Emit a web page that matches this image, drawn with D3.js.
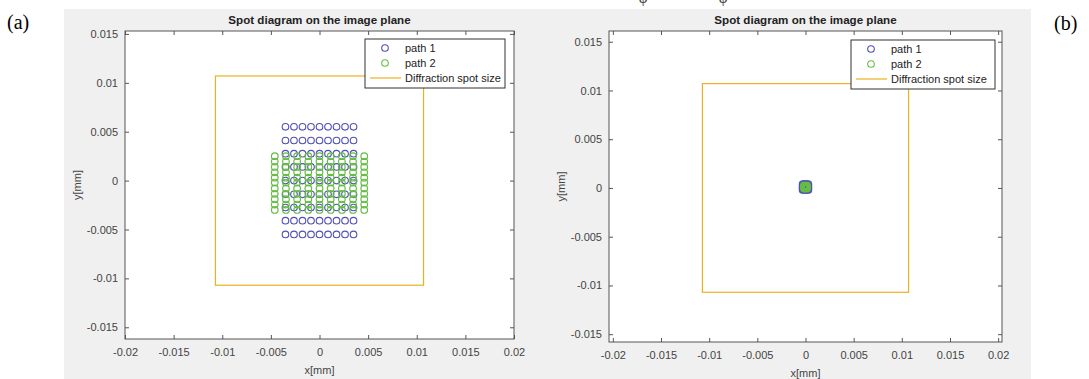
<!DOCTYPE html>
<html>
<head>
<meta charset="utf-8">
<script src="https://cdn.jsdelivr.net/npm/d3@7"></script>
<style>
  body { margin: 0; background: #fff; }
  svg { display: block; font-family: "Liberation Sans", Arial, sans-serif; }
</style>
</head>
<body>
<svg width="1089" height="379"></svg>
<script>
// ---- data (mm) ----
// panel (a): spots spread out
const aBlueX = [-0.0035, -0.002625, -0.00175, -0.000875, 0, 0.000875, 0.00175, 0.002625, 0.0035];
const aBlueY = [0.0055, 0.0041, 0.00275, 0.0014, 0, -0.0014, -0.00275, -0.0041, -0.0055];
const aGreenX = [-0.0046, -0.00345, -0.0023, -0.00115, 0, 0.00115, 0.0023, 0.00345, 0.0046];
const aGreenY = [0.0025, 0.00195, 0.0014, 0.00085, 0.0003, -0.0002, -0.0008, -0.00135, -0.0019, -0.00245, -0.003];
// panel (b): spots collapsed near the origin
const bBlueX = [-0.0003, -0.00015, 0, 0.00015, 0.0003];
const bBlueY = [0.0004, 0.00025, 0.0001, -0.00005, -0.0002];
const bGreenX = [-0.00015, -0.00005, 0.00005, 0.00015];
const bGreenY = [0.00025, 0.00015, 0.00005, -0.00005];
// diffraction spot half size
const spotHalf = 0.0107;
const xTicks = [-0.02, -0.015, -0.01, -0.005, 0, 0.005, 0.01, 0.015, 0.02];
const yTicks = [-0.015, -0.01, -0.005, 0, 0.005, 0.01, 0.015];
const legendLabels = ["path 1", "path 2", "Diffraction spot size"];

const blue = "#5050b4", green = "#66bd45", orange = "#edb120";

const svg = d3.select("svg");

// grey figure background
svg.append("rect").attr("x", 64).attr("y", 9).attr("width", 967).attr("height", 370).attr("fill", "#f0f0f0");

// symbols from the text above the figure, only partly visible
[643, 723].forEach(px => {
  svg.append("text").attr("x", px).attr("y", 3).attr("text-anchor", "middle")
    .attr("fill", "#333")
    .style("font-family", "Liberation Serif, serif").style("font-size", "15px").text("φ");
});

svg.append("text").attr("x", 7).attr("y", 29)
  .style("font-family", "Liberation Serif, serif").style("font-size", "20px").text("(a)");
svg.append("text").attr("x", 1054).attr("y", 30)
  .style("font-family", "Liberation Serif, serif").style("font-size", "20px").text("(b)");

const fmt = d => String(+d.toFixed(3));

function grid(xs, ys) {
  const pts = [];
  ys.forEach(y => xs.forEach(x => pts.push([x, y])));
  return pts;
}

function drawPlot(opt) {
  const x = d3.scaleLinear().domain(opt.xDom).range([opt.left, opt.right]);
  const y = d3.scaleLinear().domain(opt.yDom).range([opt.bottom, opt.top]);
  const g = svg.append("g");

  g.append("rect").attr("x", opt.left).attr("y", opt.top)
    .attr("width", opt.right - opt.left).attr("height", opt.bottom - opt.top)
    .attr("fill", "#fff");

  // ticks on all four sides, pointing inward
  const axes = [
    [d3.axisBottom(x).tickFormat(fmt).tickPadding(9), `translate(0,${opt.bottom})`, xTicks],
    [d3.axisTop(x).tickFormat(""), `translate(0,${opt.top})`, xTicks],
    [d3.axisLeft(y).tickFormat(fmt).tickPadding(7), `translate(${opt.left},0)`, yTicks],
    [d3.axisRight(y).tickFormat(""), `translate(${opt.right},0)`, yTicks]
  ];
  axes.forEach(([ax, tr, tv]) => {
    const a = g.append("g").attr("transform", tr)
      .call(ax.tickValues(tv).tickSizeInner(-4).tickSizeOuter(0));
    a.select(".domain").remove();
    a.selectAll("line").attr("stroke", "#555");
    a.selectAll("text").attr("fill", "#444").style("font-size", "11px")
      .style("font-family", "Liberation Sans, Arial, sans-serif");
  });

  // diffraction spot square
  g.append("rect")
    .attr("x", x(-spotHalf)).attr("y", y(spotHalf))
    .attr("width", x(spotHalf) - x(-spotHalf)).attr("height", y(-spotHalf) - y(spotHalf))
    .attr("fill", "none").attr("stroke", orange).attr("stroke-width", 1.2);

  g.append("g").selectAll("circle").data(grid(opt.blueX, opt.blueY)).enter()
    .append("circle").attr("cx", d => x(d[0])).attr("cy", d => y(d[1])).attr("r", 3.3)
    .attr("fill", "none").attr("stroke", blue).attr("stroke-width", 1.1);
  g.append("g").selectAll("circle").data(grid(opt.greenX, opt.greenY)).enter()
    .append("circle").attr("cx", d => x(d[0])).attr("cy", d => y(d[1])).attr("r", 3.3)
    .attr("fill", "none").attr("stroke", green).attr("stroke-width", 1.2);

  // box
  g.append("rect").attr("x", opt.left).attr("y", opt.top)
    .attr("width", opt.right - opt.left).attr("height", opt.bottom - opt.top)
    .attr("fill", "none").attr("stroke", "#555").attr("stroke-width", 1);

  const cx = (opt.left + opt.right) / 2;
  g.append("text").attr("x", cx).attr("y", 24).attr("text-anchor", "middle")
    .style("font-size", "11.6px").style("font-weight", "bold").attr("fill", "#222")
    .text("Spot diagram on the image plane");
  g.append("text").attr("x", cx).attr("y", opt.bottom + 35).attr("text-anchor", "middle")
    .style("font-size", "11px").attr("fill", "#444").text("x[mm]");
  g.append("text").attr("transform", `translate(${opt.left - 44},${(opt.top + opt.bottom) / 2}) rotate(-90)`)
    .attr("text-anchor", "middle").style("font-size", "11px").attr("fill", "#444").text("y[mm]");

  // legend
  const lg = g.append("g").attr("transform", `translate(${opt.legX},${opt.legY})`);
  lg.append("rect").attr("width", opt.legW).attr("height", 49)
    .attr("fill", "#fff").attr("stroke", "#333").attr("stroke-width", 1);
  legendLabels.forEach((lab, i) => {
    const yy = 9 + i * 15;
    if (i < 2) {
      lg.append("circle").attr("cx", 20).attr("cy", yy).attr("r", 3.3)
        .attr("fill", "none").attr("stroke", i === 0 ? blue : green).attr("stroke-width", 1.1);
    } else {
      lg.append("line").attr("x1", 5).attr("x2", 36).attr("y1", yy).attr("y2", yy)
        .attr("stroke", orange).attr("stroke-width", 1.2);
    }
    lg.append("text").attr("x", 40).attr("y", yy + 3.5)
      .style("font-size", "11px").attr("fill", "#222").text(lab);
  });
}

drawPlot({
  xDom: [-0.02, 0.02], yDom: [-0.0162, 0.0153],
  left: 125, right: 514, top: 31, bottom: 339,
  blueX: aBlueX, blueY: aBlueY, greenX: aGreenX, greenY: aGreenY,
  legX: 365, legY: 39, legW: 140
});
drawPlot({
  xDom: [-0.0204, 0.0204], yDom: [-0.0158, 0.0161],
  left: 609, right: 1002, top: 31, bottom: 342,
  blueX: bBlueX, blueY: bBlueY, greenX: bGreenX, greenY: bGreenY,
  legX: 851, legY: 40, legW: 144
});
</script>
</body>
</html>
